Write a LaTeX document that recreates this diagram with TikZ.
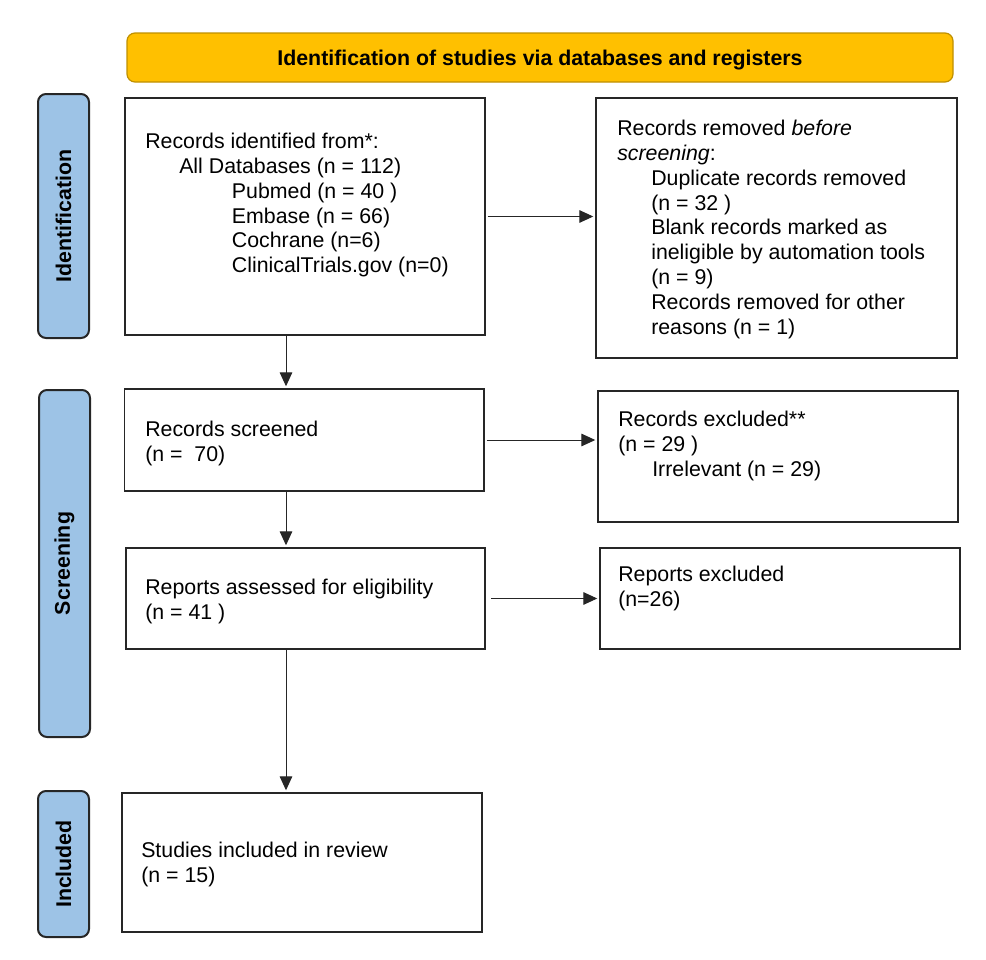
\documentclass[tikz,border=0pt]{standalone}
\usepackage{fontspec}
\setmainfont{Liberation Sans}
\usepackage{xcolor}
\usetikzlibrary{arrows.meta}
\definecolor{phaseblue}{HTML}{9DC3E6}
\definecolor{headgold}{HTML}{FFC000}
\definecolor{headedge}{HTML}{BF9000}
\newcommand{\ind}{\hspace*{25.5pt}}

\begin{document}
\begin{tikzpicture}[x=0.75pt, y=-0.75pt,
	box/.style = {draw=black!85, line width=1.1pt, inner sep=0pt},
	phase/.style = {draw=black!85, line width=1.5pt, fill=phaseblue, rounded corners=6pt, rotate=90, inner sep=0pt, font=\bfseries\fontsize{16}{19}\selectfont},
	txt/.style = {anchor=north west, inner sep=0pt, align=left, font=\fontsize{16}{18.6}\selectfont},
	flow/.style = {draw=black!85, line width=0.75pt, -{Triangle[length=10.5pt,width=9.5pt]}, shorten >=1.5pt}]
	\useasboundingbox (0,0) rectangle (986,960);
	\node [draw=headedge, line width=0.9pt, fill=headgold, rounded corners=6pt, minimum width=619.5pt, minimum height=36.75pt, text depth=0pt, font=\bfseries\fontsize{16}{19}\selectfont] (head) at (540,57.5) {Identification of studies via databases and registers};
	\node [phase, minimum width=183pt, minimum height=38.25pt] (ident) at (63.5,216) {Identification};
	\node [phase, minimum width=260.25pt, minimum height=38.25pt] (screen) at (64.5,563.5) {Screening};
	\node [phase, minimum width=109.5pt, minimum height=38.25pt] (incl) at (63.5,864) {Included};
	\node [box, minimum width=270pt, minimum height=177.75pt] (src) at (305,216.5) {};
	\node [box, minimum width=270.75pt, minimum height=195pt] (removed) at (776.5,228) {};
	\node [box, minimum width=269.6pt, minimum height=76.5pt] (screened) at (304.25,440) {};
	\node [box, minimum width=270pt, minimum height=98.25pt] (excluded) at (778,456.5) {};
	\node [box, minimum width=269.25pt, minimum height=75.75pt] (reports) at (305.5,598.5) {};
	\node [box, minimum width=270pt, minimum height=75.75pt] (repexcl) at (780,598.5) {};
	\node [box, minimum width=270pt, minimum height=104.25pt] (included) at (302,862.5) {};
	\node [txt] (t-src) at (145,133) {Records identified from*:\\ \ind All Databases (n = 112)\\ \hspace*{65pt}Pubmed (n = 40 )\\ \hspace*{65pt}Embase (n = 66)\\ \hspace*{65pt}Cochrane (n=6)\\ \hspace*{65pt}ClinicalTrials.gov (n=0)};
	\node [txt] (t-removed) at (617,120) {Records removed \textit{before}\\ \textit{screening}:\\ \ind Duplicate records removed\\ \ind (n = 32 )\\ \ind Blank records marked as\\ \ind ineligible by automation tools\\ \ind (n = 9)\\ \ind Records removed for other\\ \ind reasons (n = 1)};
	\node [txt] (t-screened) at (145,421) {Records screened\\ (n = \ 70)};
	\node [txt] (t-excluded) at (618,411) {Records excluded**\\ (n = 29 )\\ \ind Irrelevant (n = 29)};
	\node [txt] (t-reports) at (145,579) {Reports assessed for eligibility\\ (n = 41 )};
	\node [txt] (t-repexcl) at (618,566) {Reports excluded\\ (n=26)};
	\node [txt] (t-included) at (141,842) {Studies included in review\\ (n = 15)};
	\coordinate (spine) at (286,0);
	\draw [flow, shorten <=1.5pt] (src.east) -- (src.east -| removed.west);
	\draw [flow, shorten <=1.5pt] (screened.east) -- (screened.east -| excluded.west);
	\draw [flow, shorten <=4pt] (reports.east) -- (reports.east -| repexcl.west);
	\draw [flow] (src.south -| spine) -- (screened.north -| spine);
	\draw [flow] (screened.south -| spine) -- (reports.north -| spine);
	\draw [flow] (reports.south -| spine) -- (included.north -| spine);
\end{tikzpicture}
\end{document}
